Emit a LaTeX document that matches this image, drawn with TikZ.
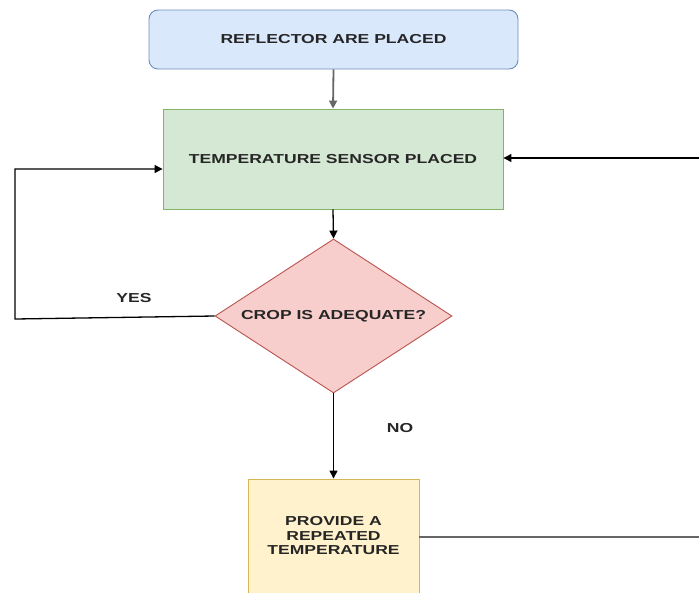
\documentclass[tikz,border=0pt]{standalone}
\usepackage{fontspec}
\setmainfont{Liberation Sans}[FakeStretch=1.35]
\usetikzlibrary{shapes.geometric,arrows.meta}
\definecolor{bluefill}{HTML}{DAE8FC}
\definecolor{bluedraw}{HTML}{6C8EBF}
\definecolor{greenfill}{HTML}{D5E8D4}
\definecolor{greendraw}{HTML}{82B366}
\definecolor{redfill}{HTML}{F8CECC}
\definecolor{reddraw}{HTML}{B85450}
\definecolor{yellowfill}{HTML}{FFF2CC}
\definecolor{yellowdraw}{HTML}{D6B656}
\definecolor{grayline}{HTML}{666666}
\tikzset{
  lbl/.style={font=\bfseries\fontsize{13}{14.5}\selectfont, text=black!85},
  conn/.style={draw=black, line width=1.3pt, -{Triangle[length=8pt,width=8pt]}},
}
\begin{document}
\begin{tikzpicture}[x=1pt,y=-1pt]
\useasboundingbox (0,0) rectangle (699,592);
\node[lbl, draw=bluedraw, fill=bluefill, rounded corners=9pt, line width=0.9pt,
  minimum width=369pt, minimum height=59pt] (refl) at (333.5,39.5) {REFLECTOR ARE PLACED};
\node[lbl, draw=greendraw, fill=greenfill, line width=0.9pt,
  minimum width=340pt, minimum height=100pt] (temp) at (333,159) {TEMPERATURE SENSOR PLACED};
\node[lbl, diamond, draw=reddraw, fill=redfill, line width=0.9pt, aspect=1.54,
  minimum width=237pt, minimum height=154pt, inner sep=0pt] (crop) at (333.5,316) {CROP IS ADEQUATE?};
\node[lbl, draw=yellowdraw, fill=yellowfill, line width=0.9pt, align=center,
  minimum width=171pt, minimum height=114pt] (prov) at (333.5,536) {PROVIDE A\\REPEATED\\TEMPERATURE};
\coordinate (rin) at (699,158);
\coordinate (rout) at (699,537);
\coordinate (yl) at (15,319);
\coordinate (yu) at (15,169);
\draw[conn, draw=grayline, line width=1.8pt] (refl.south) -- (temp.north);
\draw[conn] (rin) -- (temp.east |- rin);
\draw[conn] (temp.south) -- (crop.north);
\draw[conn] (crop.west) -- (yl) -- (yu) -- (temp.west |- yu);
\draw[conn] (crop.south) -- (prov.north);
\draw[draw=grayline, line width=1.3pt] (prov.east |- rout) -- (rout);
\node[lbl] (yes) at (134,298) {YES};
\node[lbl] (no) at (400,428) {NO};
\end{tikzpicture}
\end{document}
